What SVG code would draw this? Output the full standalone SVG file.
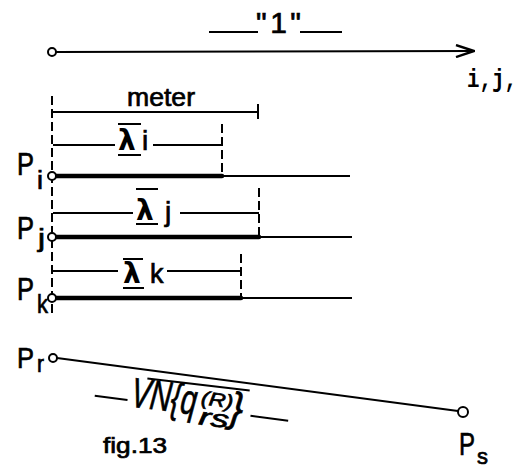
<svg xmlns="http://www.w3.org/2000/svg" width="530" height="469" viewBox="0 0 530 469">
<style>
.ln{stroke:#000;stroke-width:2;fill:none}
.thk{stroke:#000;stroke-width:4.5;fill:none;stroke-linecap:round}
.dsh{stroke:#000;stroke-width:2;fill:none;stroke-dasharray:9 4}
.pt{fill:#fff;stroke:#000;stroke-width:2}
.t{font-family:"Liberation Sans",Arial,sans-serif;fill:#000;stroke:#000;stroke-width:0.7}
.lam{font-family:"DejaVu Sans","Liberation Sans",sans-serif;font-weight:bold;fill:#000}
</style>
<defs>
<marker id="ah" viewBox="0 0 20 14" refX="19" refY="7" markerWidth="20" markerHeight="14" markerUnits="userSpaceOnUse" orient="auto">
<path d="M1,1 L19,7 L1,13" fill="none" stroke="#000" stroke-width="2.4"/>
</marker>
</defs>
<g id="connectors">
<line class="ln" x1="56" y1="52" x2="474" y2="51" marker-end="url(#ah)"/>
<line class="ln" x1="209" y1="32" x2="258" y2="32"/>
<line class="ln" x1="300" y1="32" x2="342" y2="32"/>
<line class="dsh" x1="52" y1="96" x2="52" y2="314"/>
<line class="ln" x1="53" y1="112" x2="258" y2="112"/>
<line class="ln" x1="258" y1="104" x2="258" y2="119" stroke-width="2.4"/>
<line class="ln" x1="53" y1="145" x2="115" y2="145"/>
<line class="ln" x1="153" y1="145" x2="222" y2="145"/>
<line class="dsh" x1="222" y1="124" x2="222" y2="176"/>
<line class="ln" x1="53" y1="213" x2="133" y2="213"/>
<line class="ln" x1="180" y1="213" x2="259" y2="213"/>
<line class="dsh" x1="259" y1="188" x2="259" y2="237"/>
<line class="ln" x1="53" y1="271" x2="118" y2="271"/>
<line class="ln" x1="167" y1="271" x2="241" y2="271"/>
<line class="dsh" x1="241" y1="254" x2="241" y2="298"/>
<line class="thk" x1="55" y1="176" x2="222" y2="176"/>
<line class="ln" x1="222" y1="176" x2="350" y2="176"/>
<line class="thk" x1="55" y1="237" x2="259" y2="237"/>
<line class="ln" x1="259" y1="237" x2="352" y2="237"/>
<line class="thk" x1="55" y1="298" x2="241" y2="298"/>
<line class="ln" x1="241" y1="298" x2="352" y2="298"/>
<line class="ln" x1="57" y1="358" x2="458" y2="411" stroke-width="2.2"/>
</g>
<g id="axis">
<circle class="pt" cx="52" cy="52" r="4"/>
<text class="t" x="256" y="33" font-size="30" stroke-width="0.4" textLength="45" lengthAdjust="spacing">"1"</text>
<text x="467" y="87" font-family="'Liberation Mono',monospace" font-weight="bold" font-size="26" fill="#000" textLength="50" lengthAdjust="spacingAndGlyphs">i,j,</text>
</g>
<g id="meter">
<text class="t" x="127" y="106" font-size="26" stroke-width="0.6" textLength="68" lengthAdjust="spacingAndGlyphs">meter</text>
</g>
<g id="lambda-i">
<line class="ln" x1="118" y1="124" x2="141" y2="124" stroke-width="2.5"/>
<text class="lam" x="118" y="150" font-size="28">λ</text>
<line class="ln" x1="118" y1="155" x2="141" y2="155" stroke-width="2.5"/>
<text class="t" x="142" y="150" font-size="28" stroke-width="0.5">i</text>
</g>
<g id="lambda-j">
<line class="ln" x1="136" y1="189" x2="158" y2="189" stroke-width="2.5"/>
<text class="lam" x="136" y="220" font-size="28">λ</text>
<line class="ln" x1="136" y1="224" x2="158" y2="224" stroke-width="2.5"/>
<text class="t" x="165" y="221" font-size="28" stroke-width="0.5">j</text>
</g>
<g id="lambda-k">
<line class="ln" x1="123" y1="259" x2="143" y2="259" stroke-width="2.5"/>
<text class="lam" x="123" y="283" font-size="28">λ</text>
<line class="ln" x1="123" y1="288" x2="144" y2="288" stroke-width="2.5"/>
<text class="t" x="150" y="283" font-size="27" stroke-width="0.5">k</text>
</g>
<g id="Pi">
<circle class="pt" cx="52" cy="176" r="4"/>
<text class="t" x="17" y="175" font-size="31" stroke-width="1" textLength="17" lengthAdjust="spacingAndGlyphs">P</text>
<text class="t" x="37" y="189" font-size="26" textLength="6" lengthAdjust="spacingAndGlyphs">i</text>
</g>
<g id="Pj">
<circle class="pt" cx="52" cy="237" r="4"/>
<text class="t" x="17" y="239" font-size="31" stroke-width="1" textLength="17" lengthAdjust="spacingAndGlyphs">P</text>
<text class="t" x="38" y="247" font-size="25" textLength="7" lengthAdjust="spacingAndGlyphs">j</text>
</g>
<g id="Pk">
<circle class="pt" cx="52" cy="298" r="4"/>
<text class="t" x="17" y="300" font-size="31" stroke-width="1" textLength="17" lengthAdjust="spacingAndGlyphs">P</text>
<text class="t" x="37" y="313" font-size="26" textLength="11" lengthAdjust="spacingAndGlyphs">k</text>
</g>
<g id="Pr">
<circle class="pt" cx="53" cy="358" r="4"/>
<text class="t" x="17" y="368" font-size="30" stroke-width="1" textLength="17" lengthAdjust="spacingAndGlyphs">P</text>
<text class="t" x="37" y="372" font-size="23" textLength="7" lengthAdjust="spacingAndGlyphs">r</text>
</g>
<g id="Ps">
<circle class="pt" cx="463" cy="412" r="5"/>
<text class="t" x="459" y="455" font-size="32" stroke-width="1" textLength="16" lengthAdjust="spacingAndGlyphs">P</text>
<text class="t" x="477" y="464" font-size="22" textLength="11" lengthAdjust="spacingAndGlyphs">s</text>
</g>
<g id="label-rs" transform="rotate(7.3 190 400)">
<line class="ln" x1="95" y1="408" x2="128" y2="408"/>
<text class="t" x="131" y="414" font-size="42" font-style="italic" textLength="66" lengthAdjust="spacingAndGlyphs">VN{q</text>
<text class="t" x="201" y="403" font-size="19" font-style="italic" stroke-width="0.5" textLength="32" lengthAdjust="spacingAndGlyphs">(R)</text>
<text class="t" x="201" y="423" font-size="24" font-style="italic" textLength="30" lengthAdjust="spacingAndGlyphs">rs</text>
<text class="t" x="231" y="416" font-size="42" font-style="italic" textLength="13" lengthAdjust="spacingAndGlyphs">}</text>
<line class="ln" x1="145" y1="384" x2="248" y2="383" stroke-width="2.2"/>
<line class="ln" x1="252" y1="408" x2="290" y2="408"/>
</g>
<g id="caption">
<text class="t" x="103" y="453" font-size="22" stroke-width="0.5" textLength="64" lengthAdjust="spacingAndGlyphs">fig.13</text>
</g>
</svg>
